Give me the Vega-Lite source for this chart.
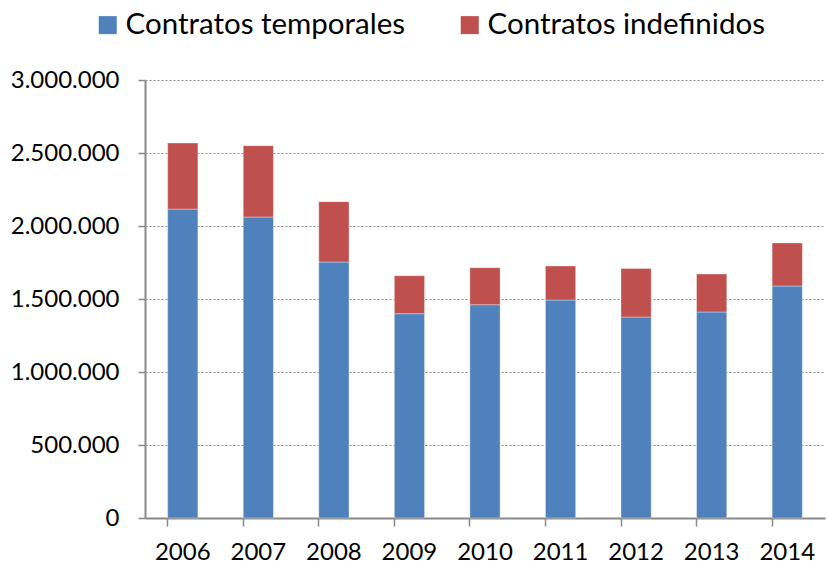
{
  "$schema": "https://vega.github.io/schema/vega-lite/v6.json",
  "width": 680,
  "height": 438,
  "autosize": "none",
  "padding": {"left": 145, "top": 80, "right": 2, "bottom": 47},
  "background": "white",
  "config": {
    "view": {"stroke": null},
    "font": "Lato"
  },
  "data": {
    "values": [
      {"year": "2006", "tipo": "Contratos temporales", "valor": 2116000},
      {"year": "2006", "tipo": "Contratos indefinidos", "valor": 452500},
      {"year": "2007", "tipo": "Contratos temporales", "valor": 2061600},
      {"year": "2007", "tipo": "Contratos indefinidos", "valor": 488400},
      {"year": "2008", "tipo": "Contratos temporales", "valor": 1753400},
      {"year": "2008", "tipo": "Contratos indefinidos", "valor": 413100},
      {"year": "2009", "tipo": "Contratos temporales", "valor": 1399300},
      {"year": "2009", "tipo": "Contratos indefinidos", "valor": 260300},
      {"year": "2010", "tipo": "Contratos temporales", "valor": 1461000},
      {"year": "2010", "tipo": "Contratos indefinidos", "valor": 253400},
      {"year": "2011", "tipo": "Contratos temporales", "valor": 1493200},
      {"year": "2011", "tipo": "Contratos indefinidos", "valor": 232800},
      {"year": "2012", "tipo": "Contratos temporales", "valor": 1376700},
      {"year": "2012", "tipo": "Contratos indefinidos", "valor": 332900},
      {"year": "2013", "tipo": "Contratos temporales", "valor": 1411000},
      {"year": "2013", "tipo": "Contratos indefinidos", "valor": 260200},
      {"year": "2014", "tipo": "Contratos temporales", "valor": 1589000},
      {"year": "2014", "tipo": "Contratos indefinidos", "valor": 294600}
    ]
  },
  "transform": [
    {"calculate": "datum.tipo === 'Contratos temporales' ? 0 : 1", "as": "orden"}
  ],
  "mark": {"type": "bar", "stroke": "#ffffff", "strokeOpacity": 0.35, "strokeWidth": 1},
  "encoding": {
    "x": {
      "field": "year",
      "type": "ordinal",
      "scale": {"paddingInner": 0.6, "paddingOuter": 0.3},
      "axis": {
        "title": null,
        "labelAngle": 0,
        "labelFontSize": 24,
        "labelColor": "#000000",
        "labelPadding": 14,
        "bandPosition": 0,
        "domainColor": "#888888",
        "domainWidth": 2,
        "tickColor": "#888888",
        "tickWidth": 1.5,
        "tickSize": 8,
        "grid": false
      }
    },
    "y": {
      "field": "valor",
      "type": "quantitative",
      "aggregate": "sum",
      "stack": "zero",
      "scale": {"domain": [0, 3000000], "nice": false},
      "axis": {
        "title": null,
        "values": [0, 500000, 1000000, 1500000, 2000000, 2500000, 3000000],
        "labelExpr": "replace(format(datum.value, ','), /,/g, '.')",
        "labelFontSize": 24,
        "labelColor": "#000000",
        "labelPadding": 19,
        "domainColor": "#888888",
        "domainWidth": 2,
        "tickColor": "#888888",
        "tickWidth": 1.5,
        "tickSize": 7,
        "grid": true,
        "gridColor": "#888888",
        "gridDash": [2, 2],
        "gridWidth": 1.2
      }
    },
    "color": {
      "field": "tipo",
      "type": "nominal",
      "scale": {
        "domain": ["Contratos temporales", "Contratos indefinidos"],
        "range": ["#4F81BD", "#C0504D"]
      },
      "legend": {
        "title": null,
        "orient": "none",
        "direction": "horizontal",
        "legendX": -52,
        "legendY": -70,
        "symbolType": "square",
        "symbolSize": 324,
        "symbolStrokeWidth": 0,
        "symbolOpacity": 1,
        "labelFontSize": 29.5,
        "labelColor": "#000000",
        "labelOffset": 3,
        "columnPadding": 49,
        "labelLimit": 400
      }
    },
    "order": {"field": "orden", "type": "quantitative"}
  }
}
